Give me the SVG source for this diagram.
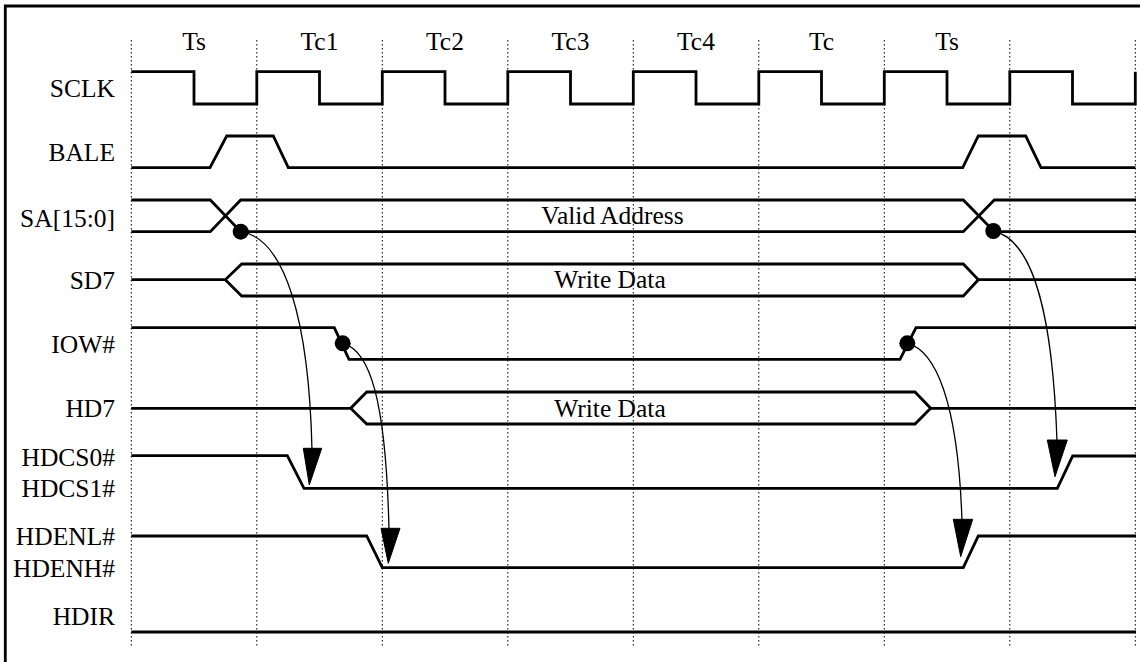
<svg xmlns="http://www.w3.org/2000/svg" width="1140" height="662" viewBox="0 0 1140 662">
<style>
.lbl{font-family:"Liberation Serif","Times New Roman",serif;font-size:25.5px;fill:#000}
.end{text-anchor:end}
.mid{text-anchor:middle}
.sig{fill:none;stroke:#000;stroke-width:2.8;stroke-linejoin:miter}
.grid{stroke:#000;stroke-width:1;stroke-dasharray:1.5,2.5}
.arc{fill:none;stroke:#000;stroke-width:1.3}
.dot{fill:#000}
.head{fill:#000;stroke:#000;stroke-width:1;stroke-linejoin:miter}
.frame{fill:none;stroke:#000;stroke-width:2.8}
</style>
<rect width="1140" height="662" fill="#fff"/>
<path class="frame" d="M5.3,670 V6 H1150"/>
<g id="grid">
<line class="grid" x1="131.3" y1="40" x2="131.3" y2="648"/>
<line class="grid" x1="256.8" y1="40" x2="256.8" y2="648"/>
<line class="grid" x1="382.3" y1="40" x2="382.3" y2="648"/>
<line class="grid" x1="507.8" y1="40" x2="507.8" y2="648"/>
<line class="grid" x1="633.3" y1="40" x2="633.3" y2="648"/>
<line class="grid" x1="758.8" y1="40" x2="758.8" y2="648"/>
<line class="grid" x1="884.3" y1="40" x2="884.3" y2="648"/>
<line class="grid" x1="1009.8" y1="40" x2="1009.8" y2="648"/>
<line class="grid" x1="1135.3" y1="40" x2="1135.3" y2="648"/>
</g>
<g id="cycles">
<text class="lbl mid" x="194" y="49.5">Ts</text>
<text class="lbl mid" x="319.5" y="49.5">Tc1</text>
<text class="lbl mid" x="445" y="49.5">Tc2</text>
<text class="lbl mid" x="570.5" y="49.5">Tc3</text>
<text class="lbl mid" x="696" y="49.5">Tc4</text>
<text class="lbl mid" x="821.5" y="49.5">Tc</text>
<text class="lbl mid" x="947" y="49.5">Ts</text>
</g>
<g id="SCLK">
<text class="lbl end" x="115" y="97.3">SCLK</text>
<path class="sig" d="M131.3,71.7 H194 V104 H256.8 V71.7 H319.5 V104 H382.3 V71.7 H445 V104 H507.8 V71.7 H570.5 V104 H633.3 V71.7 H696 V104 H758.8 V71.7 H821.5 V104 H884.3 V71.7 H947 V104 H1009.8 V71.7 H1072.5 V104 H1135.3 V71.7"/>
</g>
<g id="BALE">
<text class="lbl end" x="115" y="160.5">BALE</text>
<path class="sig" d="M131.3,167.7 H210 L226.7,136 H273.3 L288.3,167.7 H962.7 L978.3,136 H1025.7 L1041,167.7 H1135.5"/>
</g>
<g id="SA">
<text class="lbl end" x="115" y="227">SA[15:0]</text>
<path class="sig" d="M131.3,200 H210.3 L240.7,231.7 H963.3 L994.3,200 H1136"/>
<path class="sig" d="M131.3,231.7 H210.3 L240.7,200 H963.3 L994.3,231.7 H1136"/>
<text class="lbl mid" x="612.5" y="224.3">Valid Address</text>
</g>
<g id="SD7">
<text class="lbl end" x="115" y="289.3">SD7</text>
<path class="sig" d="M131.3,279.7 H225.3 L241.7,264 H963.3 L978.3,279.7 H1136"/>
<path class="sig" d="M225.3,279.7 L241.7,296 H963.3 L978.3,279.7"/>
<text class="lbl mid" x="610" y="288.3">Write Data</text>
</g>
<g id="IOW">
<text class="lbl end" x="115" y="353.3">IOW#</text>
<path class="sig" d="M131.3,327.7 H334.3 L349,359.3 H900 L916,327.7 H1136"/>
</g>
<g id="HD7">
<text class="lbl end" x="115" y="417.3">HD7</text>
<path class="sig" d="M131.3,408.3 H350.7 L366.7,392 H915 L930.7,408.3 H1136"/>
<path class="sig" d="M350.7,408.3 L366.7,424 H915 L930.7,408.3"/>
<text class="lbl mid" x="610" y="416.7">Write Data</text>
</g>
<g id="HDCS">
<text class="lbl end" x="115" y="465.7">HDCS0#</text>
<text class="lbl end" x="115" y="496.7">HDCS1#</text>
<path class="sig" d="M131.3,455.7 H287.3 L304,488.3 H1057.3 L1072.7,456 H1136"/>
</g>
<g id="HDEN">
<text class="lbl end" x="115" y="545">HDENL#</text>
<text class="lbl end" x="115" y="577.3">HDENH#</text>
<path class="sig" d="M131.3,536 H366.7 L382.3,567.7 H963.3 L978.3,536 H1136"/>
</g>
<g id="HDIR">
<text class="lbl end" x="115" y="625">HDIR</text>
<path class="sig" d="M131.3,632 H1136"/>
</g>
<g id="connectors">
<path class="arc" d="M240.7,231.7 C285,238 309,320 312,450"/>
<circle class="dot" cx="240.7" cy="231.7" r="8"/>
<polygon class="head" points="303.3,448.3 321.7,448.3 309.3,485"/>
<path class="arc" d="M342.7,343.3 C370,350 386,400 389,530"/>
<circle class="dot" cx="342.7" cy="343.3" r="8"/>
<polygon class="head" points="381,528.3 400,528.3 388.3,563.3"/>
<path class="arc" d="M907.3,343.3 C935,350 958,400 962,521"/>
<circle class="dot" cx="907.3" cy="343.3" r="8"/>
<polygon class="head" points="953.3,519.3 972.7,519.3 960.7,556.7"/>
<path class="arc" d="M993.3,231 C1035,240 1053,320 1057,442"/>
<circle class="dot" cx="993.3" cy="231" r="8"/>
<polygon class="head" points="1047.3,440 1067.3,440 1055,476.7"/>
</g>
</svg>
